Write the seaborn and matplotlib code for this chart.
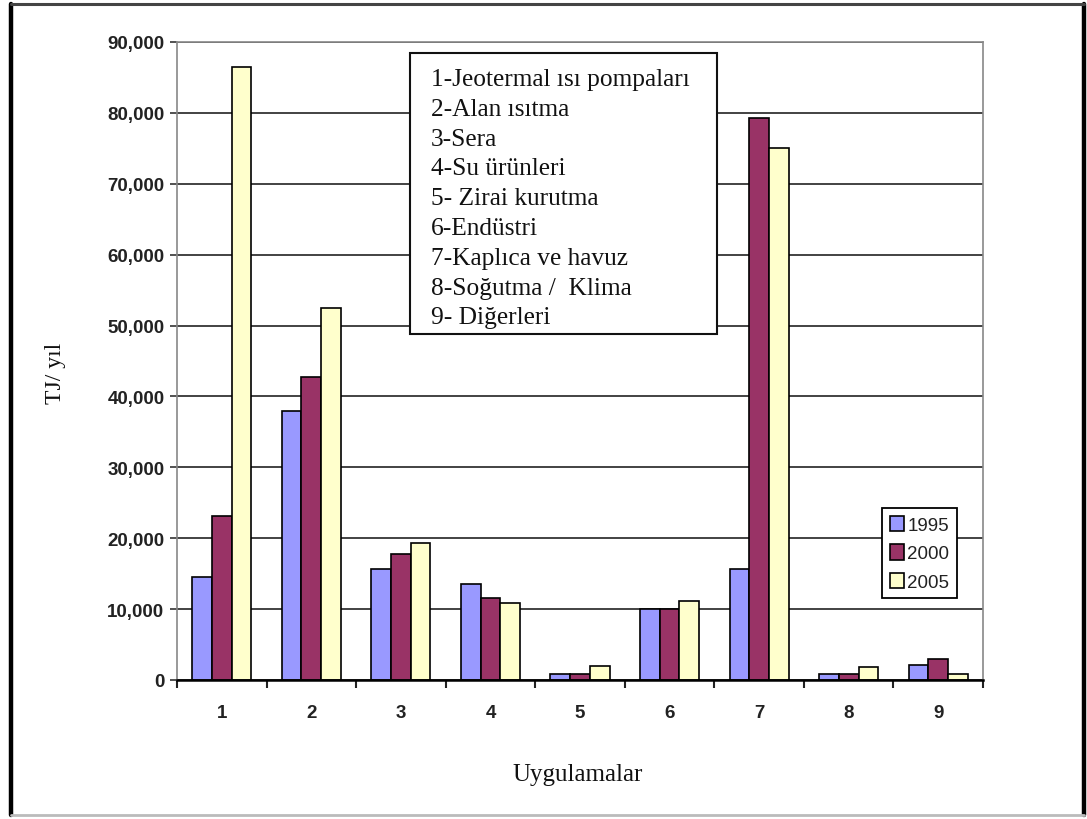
import matplotlib
matplotlib.use('Agg')
import matplotlib.pyplot as plt
import seaborn as sns
import pandas as pd
from matplotlib.patches import Rectangle
from matplotlib.lines import Line2D
from matplotlib.ticker import FuncFormatter, FixedLocator

categories = ['1', '2', '3', '4', '5', '6', '7', '8', '9']
years = ['1995', '2000', '2005']
v1995 = [14500, 38000, 15600, 13500, 900, 10000, 15600, 850, 2100]
v2000 = [23200, 42800, 17800, 11500, 900, 10000, 79300, 850, 3000]
v2005 = [86500, 52500, 19300, 10800, 2000, 11200, 75000, 1800, 850]
colors = ['#9999FF', '#993366', '#FFFFCC']
descriptions = [
    '1-Jeotermal ısı pompaları',
    '2-Alan ısıtma',
    '3-Sera',
    '4-Su ürünleri',
    '5- Zirai kurutma',
    '6-Endüstri',
    '7-Kaplıca ve havuz',
    '8-Soğutma /  Klima',
    '9- Diğerleri',
]
yticks = [0, 10000, 20000, 30000, 40000, 50000, 60000, 70000, 80000, 90000]
xlabel = 'Uygulamalar'
ylabel = 'TJ/ yıl'

rows = []
for yr, vals in zip(years, [v1995, v2000, v2005]):
    for c, v in zip(categories, vals):
        rows.append({'Uygulama': c, 'Yıl': yr, 'Değer': v})
df = pd.DataFrame(rows)

sns.set_theme(style='white')
plt.rcParams['font.family'] = ['Liberation Sans', 'DejaVu Sans']

W, H = 1087, 820
fig = plt.figure(figsize=(W / 100, H / 100), dpi=100)
fig.patch.set_facecolor('white')

def fx(px):
    return px / W

def fy(py):
    return 1 - py / H

ax = fig.add_axes([fx(177), fy(681), fx(983) - fx(177), fy(43) - fy(681)])
sns.barplot(data=df, x='Uygulama', y='Değer', hue='Yıl', palette=colors,
            width=0.66, edgecolor='black', linewidth=1.2, saturation=1,
            ax=ax, legend=True)

ax.set_ylim(0, 90000)
ax.set_xlim(-0.5, len(categories) - 0.5)
ax.yaxis.set_major_locator(FixedLocator(yticks))
ax.yaxis.set_major_formatter(FuncFormatter(lambda v, p: f'{int(v):,}'))
ax.set_axisbelow(True)
ax.yaxis.grid(True, color='#222222', linewidth=1.2)
ax.xaxis.grid(False)

for s in ['left', 'right', 'top']:
    ax.spines[s].set_color('#888888')
    ax.spines[s].set_linewidth(1.2)
ax.spines['bottom'].set_color('black')
ax.spines['bottom'].set_linewidth(1.8)

ax.tick_params(axis='y', which='major', direction='out', length=5, width=1.2,
               color='#333333', left=True, pad=4, labelsize=13.5)
ax.tick_params(axis='x', which='major', length=0, pad=17, labelsize=13.5)
ax.set_xticks(range(len(categories)))
ax.set_xticklabels(categories)
ax.set_xticks([i - 0.5 for i in range(len(categories) + 1)], minor=True)
ax.tick_params(axis='x', which='minor', direction='out', length=6, width=1.5,
               color='#222222', bottom=True)
for lab in ax.get_xticklabels() + ax.get_yticklabels():
    lab.set_fontweight('bold')
    lab.set_color('#222222')

ax.set_xlabel('')
ax.set_ylabel('')
fig.text(fx(578), fy(775), xlabel, ha='center', va='center',
         family='Liberation Serif', fontsize=18, color='#111111')
fig.text(fx(55), fy(373), ylabel, ha='center', va='center', rotation=90,
         family='Liberation Serif', fontsize=17, color='#111111')

# legend
handles, labels = ax.get_legend_handles_labels()
leg = ax.legend(handles, labels, loc='upper left',
                bbox_to_anchor=((882 - 177) / 806, (681 - 509) / 638),
                frameon=True, fancybox=False, edgecolor='black',
                framealpha=1, fontsize=13.5, handlelength=0.75,
                handleheight=0.9, handletextpad=0.2, borderpad=0.4,
                labelspacing=0.55, borderaxespad=0)
leg.get_frame().set_linewidth(1.3)
for t in leg.get_texts():
    t.set_color('#222222')
for h in leg.legend_handles:
    h.set_edgecolor('black')
    h.set_linewidth(1.2)

# description box
box = Rectangle((fx(410), fy(335)), fx(717) - fx(410), fy(54) - fy(335),
                transform=fig.transFigure, facecolor='white',
                edgecolor='#111111', linewidth=1.5, zorder=5)
fig.patches.append(box)
for i, line in enumerate(descriptions):
    fig.text(fx(431), fy(80 + i * 29.8), line, ha='left', va='center',
             family='Liberation Serif', fontsize=18.3, color='#111111', zorder=6)

# outer frame
frame_lines = [
    ((11, 11), (5, 816), 'black', 3.2),
    ((1084, 1084), (5, 816), 'black', 3.2),
    ((11, 1084), (5, 5), '#444444', 2.2),
    ((11, 1084), (816, 816), '#bbbbbb', 2.0),
]
for xs, ys, col, lw in frame_lines:
    fig.add_artist(Line2D([fx(xs[0]), fx(xs[1])], [fy(ys[0]), fy(ys[1])],
                          transform=fig.transFigure, color=col, linewidth=lw,
                          zorder=10))

fig.savefig('out.png', dpi=100, facecolor='white')
